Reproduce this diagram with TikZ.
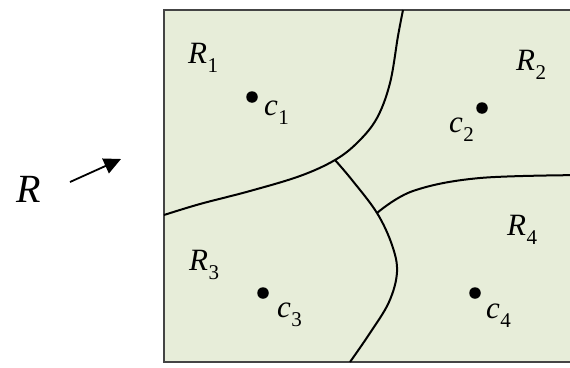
\documentclass[tikz,border=0pt]{standalone}
\usepackage{fontspec}
\setmainfont{Liberation Serif}
\usetikzlibrary{arrows.meta}
\definecolor{regionfill}{HTML}{E7EDD9}
\definecolor{framecol}{HTML}{444444}
\newcommand{\sublab}[2]{\textit{#1}\kern0.5pt\raisebox{-9pt}{\fontsize{21}{21}\selectfont #2}}
\tikzset{
  lbl/.style={inner sep=0pt, anchor=base west, font=\fontsize{31}{31}\selectfont},
  border/.style={black, line width=2pt},
  centroid/.style={circle, fill=black, inner sep=0pt, minimum size=11.5pt},
}
\begin{document}
\begin{tikzpicture}[x=1pt,y=-1pt]
\useasboundingbox (0,0) rectangle (570,367);
% region
\fill[regionfill] (164,10) rectangle (590,362);
\draw[framecol, line width=2pt] (590,10) -- (164,10) -- (164,362) -- (590,362);
% junctions
\coordinate (j1) at (335,160);
\coordinate (j2) at (377,213);
% boundaries
\draw[border] plot[smooth, tension=0.6] coordinates {(403,10) (398,36) (390,83) (377,118) (358,142) (j1) (300,176) (250,191) (200,204) (164,215)};
\draw[border] plot[smooth, tension=0.6] coordinates {(j1) (352,180) (j2) (392,245) (397,272) (389,302) (370,333) (350,362)};
\draw[border] plot[smooth, tension=0.6] coordinates {(j2) (413,191) (480,178) (590,175)};
% centroids
\node[centroid] (d1) at (252,97) {};
\node[centroid] (d2) at (482,108) {};
\node[centroid] (d3) at (263,293) {};
\node[centroid] (d4) at (475,293) {};
% labels
\node[lbl] (r1) at (188,63) {\sublab{R}{1}};
\node[lbl] (r2) at (516,70) {\sublab{R}{2}};
\node[lbl] (r3) at (189,270) {\sublab{R}{3}};
\node[lbl] (r4) at (507,235) {\sublab{R}{4}};
\node[lbl] (c1) at (264,115) {\sublab{c}{1}};
\node[lbl] (c2) at (449,132) {\sublab{c}{2}};
\node[lbl] (c3) at (277,317) {\sublab{c}{3}};
\node[lbl] (c4) at (486,318) {\sublab{c}{4}};
\node[lbl, font=\fontsize{40}{40}\selectfont] (R) at (16,202) {\textit{R}};
% arrow
\coordinate (a0) at (70,182);
\coordinate (a1) at (121,159);
\draw[line width=1.8pt, -{Triangle[length=17pt,width=16pt]}] (a0) -- (a1);
\end{tikzpicture}
\end{document}
